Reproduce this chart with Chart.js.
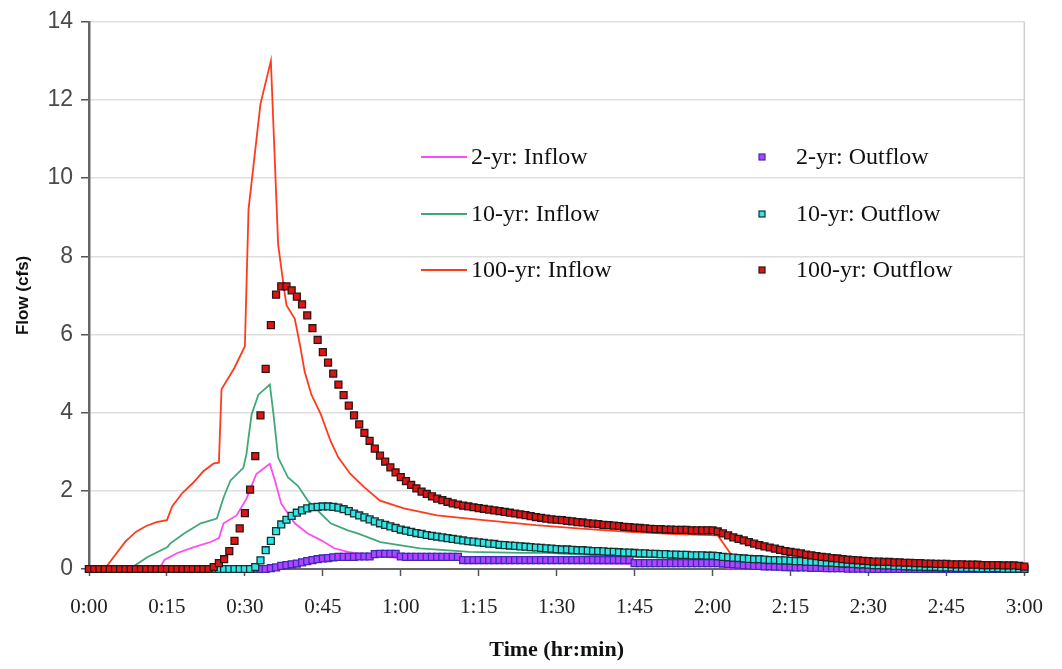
<!DOCTYPE html>
<html>
<head>
<meta charset="utf-8">
<script src="https://cdn.jsdelivr.net/npm/chart.js@4.4.0/dist/chart.umd.min.js"></script>
<style>
html,body{margin:0;padding:0;background:#ffffff;}
#wrap{width:1062px;height:669px;position:relative;}
</style>
</head>
<body>
<div id="wrap"><canvas id="c" width="1062" height="669"></canvas></div>
<script>
// ---- tick labels ----
const timeTickLabels = ['0:00','0:15','0:30','0:45','1:00','1:15','1:30','1:45','2:00','2:15','2:30','2:45','3:00'];

// ---- series names ----
const seriesNames = ['2-yr: Inflow','10-yr: Inflow','100-yr: Inflow','2-yr: Outflow','10-yr: Outflow','100-yr: Outflow'];

// ---- inflow hydrographs (time in minutes, flow in cfs) ----
const inflow2Time = [0,13.5,14.5,17,20.2,23.4,25,25.9,28.4,30.3,32.2,34.8,35.8,37,39.6,42.1,44.6,47.2,49.8,55,60,75,90,105,121,123,130,180];
const inflow2Flow = [0,0,0.23,0.41,0.56,0.69,0.79,1.17,1.37,1.8,2.43,2.69,2.26,1.67,1.17,0.91,0.74,0.53,0.44,0.33,0.28,0.21,0.16,0.13,0.11,0.03,0,0];

const inflow10Time = [0,7.8,11.2,15.1,15.6,18.3,21.5,24.6,25.9,27.2,29.7,30.3,30.7,31.3,32.6,34.8,35.5,36.4,38.3,40.2,42.1,44.6,46.5,49.8,51.7,56.1,63.7,73.2,83.5,87.9,103.7,121,123,135,140,180];
const inflow10Flow = [0,0,0.3,0.56,0.65,0.91,1.17,1.29,1.83,2.26,2.59,2.94,3.36,3.96,4.46,4.72,3.96,2.85,2.34,2.13,1.75,1.42,1.17,0.99,0.91,0.69,0.53,0.44,0.41,0.41,0.31,0.27,0.05,0.01,0,0];

const inflow100Time = [0,3,5,7,9,11,13,15,16,18,20,22,24,25,25.5,28,30,30.7,33,35,36.4,37.4,38,39.6,40.6,41.5,42.8,44.6,46.5,48,50.3,53,56,60.6,67,73,80,86,94,104,113,121,123,125,135,145,180];
const inflow100Flow = [0,0,0.35,0.7,0.95,1.1,1.2,1.25,1.6,1.95,2.2,2.5,2.7,2.72,4.6,5.15,5.7,9.2,11.9,13.0,8.3,7.3,6.75,6.4,5.73,5.05,4.46,3.96,3.27,2.85,2.43,2.09,1.75,1.55,1.37,1.29,1.2,1.12,1.04,0.95,0.89,0.86,0.48,0.08,0.03,0,0];

// ---- outflow hydrographs, one value per minute from 0:00 to 3:00 ----
const outflow2 = [
0,0,0,0,0,0,0,0,0,0,
0,0,0,0,0,0,0,0,0,0,
0,0,0,0,0,0,0,0,0,0,
0,0,0,0,0,0.02,0.04,0.08,0.1,0.12,
0.14,0.17,0.2,0.23,0.25,0.27,0.28,0.3,0.31,0.31,
0.31,0.31,0.32,0.32,0.32,0.38,0.39,0.39,0.39,0.39,
0.32,0.31,0.31,0.31,0.31,0.31,0.31,0.31,0.31,0.31,
0.31,0.31,0.23,0.23,0.23,0.23,0.23,0.23,0.23,0.23,
0.23,0.23,0.23,0.23,0.23,0.23,0.23,0.23,0.23,0.23,
0.23,0.23,0.23,0.23,0.23,0.23,0.23,0.23,0.23,0.23,
0.23,0.23,0.23,0.23,0.23,0.15,0.15,0.15,0.15,0.15,
0.15,0.15,0.15,0.15,0.15,0.15,0.15,0.15,0.15,0.15,
0.15,0.15,0.14,0.13,0.12,0.11,0.1,0.09,0.08,0.08,
0.07,0.07,0.06,0.06,0.05,0.05,0.04,0.04,0.04,0.03,
0.03,0.03,0.02,0.02,0.02,0.02,0.01,0.01,0.01,0.01,
0,0,0,0,0,0,0,0,0,0,
0,0,0,0,0,0,0,0,0,0,
0,0,0,0,0,0,0,0,0,0,
0];

const outflow10 = [
0,0,0,0,0,0,0,0,0,0,
0,0,0,0,0,0,0,0,0,0,
0,0,0,0,0,0,0,0,0,0,
0,0,0.05,0.22,0.48,0.72,0.97,1.14,1.26,1.36,
1.44,1.5,1.55,1.58,1.59,1.6,1.6,1.59,1.57,1.53,
1.48,1.42,1.37,1.32,1.27,1.22,1.17,1.13,1.09,1.05,
1.01,0.98,0.95,0.92,0.9,0.87,0.85,0.83,0.81,0.79,
0.77,0.75,0.73,0.71,0.7,0.68,0.67,0.65,0.64,0.62,
0.61,0.6,0.59,0.58,0.57,0.56,0.55,0.54,0.53,0.52,
0.51,0.5,0.5,0.49,0.48,0.48,0.47,0.46,0.46,0.45,
0.44,0.44,0.43,0.42,0.42,0.41,0.4,0.4,0.39,0.39,
0.38,0.38,0.37,0.37,0.36,0.36,0.35,0.35,0.35,0.34,
0.34,0.33,0.31,0.3,0.29,0.28,0.27,0.26,0.25,0.25,
0.24,0.23,0.23,0.22,0.22,0.21,0.2,0.2,0.19,0.18,
0.18,0.17,0.16,0.16,0.15,0.14,0.14,0.13,0.12,0.12,
0.11,0.1,0.1,0.09,0.09,0.08,0.08,0.07,0.07,0.06,
0.06,0.05,0.05,0.05,0.04,0.04,0.04,0.03,0.03,0.03,
0.03,0.02,0.02,0.02,0.02,0.02,0.01,0.01,0.01,0.01,
0.01];

const outflow100 = [
0,0,0,0,0,0,0,0,0,0,
0,0,0,0,0,0,0,0,0,0,
0,0,0,0,0.05,0.15,0.25,0.46,0.72,1.04,
1.43,2.03,2.89,3.93,5.12,6.24,7.02,7.23,7.23,7.13,
6.97,6.77,6.49,6.16,5.86,5.55,5.28,5.0,4.72,4.45,
4.18,3.93,3.7,3.48,3.28,3.08,2.9,2.75,2.6,2.47,
2.35,2.25,2.15,2.06,1.98,1.92,1.86,1.8,1.76,1.72,
1.68,1.65,1.62,1.6,1.58,1.56,1.54,1.52,1.5,1.48,
1.46,1.44,1.42,1.4,1.38,1.35,1.33,1.31,1.29,1.27,
1.26,1.25,1.23,1.22,1.2,1.19,1.17,1.16,1.15,1.13,
1.12,1.11,1.1,1.08,1.07,1.06,1.05,1.04,1.03,1.02,
1.02,1.01,1.01,1.0,1.0,1.0,0.99,0.99,0.99,0.99,
0.99,0.96,0.91,0.86,0.81,0.77,0.73,0.69,0.65,0.61,
0.58,0.55,0.52,0.49,0.46,0.44,0.42,0.4,0.37,0.35,
0.33,0.31,0.3,0.28,0.27,0.25,0.24,0.23,0.22,0.21,
0.2,0.19,0.19,0.18,0.18,0.17,0.17,0.16,0.16,0.15,
0.15,0.14,0.14,0.13,0.13,0.13,0.12,0.12,0.12,0.11,
0.11,0.11,0.1,0.1,0.1,0.1,0.09,0.09,0.09,0.08,
0.06];

// ---- helpers ----
function pairs(xs, ys) { return xs.map((x, i) => ({ x: x, y: ys[i] })); }
function perMinute(ys) { return ys.map((y, i) => ({ x: i, y: y })); }

const lineDs = (label, data, color) => ({
  label, data, borderColor: color, backgroundColor: color, borderWidth: 1.8,
  pointRadius: 0, tension: 0, showLine: true, clip: false, fill: false
});
const markDs = (label, data, fill, edge) => ({
  label, data, showLine: false, pointStyle: 'rect', pointRadius: 4.9,
  pointBackgroundColor: fill, pointBorderColor: edge, pointBorderWidth: 1.3,
  backgroundColor: fill, borderColor: edge, clip: false
});

// Datasets: index 0 is drawn on top
const datasets = [
  markDs(seriesNames[5], perMinute(outflow100), '#e01414', '#2a1616'),
  markDs(seriesNames[4], perMinute(outflow10), '#2ee6e6', '#173030'),
  markDs(seriesNames[3], perMinute(outflow2), '#b144ff', '#3c2ab8'),
  lineDs(seriesNames[2], pairs(inflow100Time, inflow100Flow), '#ff3b1e'),
  lineDs(seriesNames[1], pairs(inflow10Time, inflow10Flow), '#40a878'),
  lineDs(seriesNames[0], pairs(inflow2Time, inflow2Flow), '#ff4cf2')
];

// legend drawn inside the plot in two columns
const legendPlugin = {
  id: 'insideLegend',
  afterDatasetsDraw(chart) {
    const ctx = chart.ctx;
    const rows = [157, 214, 270];
    ctx.save();
    ctx.font = '24px "Liberation Serif", "Times New Roman", serif';
    ctx.fillStyle = '#111';
    ctx.textBaseline = 'middle';
    [5, 4, 3].forEach((di, r) => {
      const ds = chart.data.datasets[di];
      ctx.strokeStyle = ds.borderColor;
      ctx.lineWidth = 2;
      ctx.beginPath();
      ctx.moveTo(421, rows[r]);
      ctx.lineTo(467, rows[r]);
      ctx.stroke();
      ctx.fillStyle = '#111';
      ctx.fillText(ds.label, 471, rows[r] + 1);
    });
    [2, 1, 0].forEach((di, r) => {
      const ds = chart.data.datasets[di];
      ctx.fillStyle = ds.pointBackgroundColor;
      ctx.fillRect(759, rows[r] - 3, 6, 6);
      ctx.strokeStyle = ds.pointBorderColor;
      ctx.lineWidth = 1.2;
      ctx.strokeRect(759, rows[r] - 3, 6, 6);
      ctx.fillStyle = '#111';
      ctx.fillText(ds.label, 796, rows[r] + 1);
    });
    ctx.restore();
  },
  beforeDatasetsDraw(chart) {
    const a = chart.chartArea, ctx = chart.ctx;
    ctx.save();
    ctx.strokeStyle = '#cfcfcf';
    ctx.lineWidth = 1.5;
    ctx.beginPath();
    ctx.moveTo(a.right, a.top);
    ctx.lineTo(a.right, a.bottom);
    ctx.stroke();
    ctx.restore();
  }
};

new Chart(document.getElementById('c'), {
  type: 'line',
  data: { datasets },
  plugins: [legendPlugin],
  options: {
    responsive: false,
    animation: false,
    devicePixelRatio: 1,
    layout: { padding: { left: 0, right: 29, top: 17, bottom: 0 } },
    plugins: { legend: { display: false }, tooltip: { enabled: false } },
    scales: {
      x: {
        type: 'linear', min: 0, max: 180,
        afterBuildTicks: (s) => { s.ticks = timeTickLabels.map((_, i) => ({ value: i * 15 })); },
        ticks: {
          autoSkip: false, maxRotation: 0, padding: 19, color: '#222',
          font: { family: 'Liberation Serif', size: 21 },
          callback: (v) => timeTickLabels[Math.round(v / 15)]
        },
        grid: { drawOnChartArea: false, drawTicks: true, tickLength: 7, tickColor: '#555', tickWidth: 1.5 },
        border: { color: '#666', width: 2 },
        title: {
          display: true, text: 'Time (hr:min)', color: '#111',
          font: { family: 'Liberation Serif', size: 22, weight: 'bold' },
          padding: { top: 4, bottom: 5 }
        },
        afterFit: (s) => { s.height = 100; }
      },
      y: {
        min: 0, max: 14,
        ticks: { stepSize: 2, padding: 8, color: '#4a4a4a', font: { family: 'Liberation Sans', size: 23 } },
        grid: { color: '#dedede', lineWidth: 1.5, tickColor: '#555', tickLength: 8, tickWidth: 1.5 },
        border: { color: '#666', width: 2.5 },
        title: {
          display: true, text: 'Flow (cfs)', color: '#111',
          font: { family: 'Liberation Sans', size: 17, weight: 'bold' },
          padding: { top: 13, bottom: 4 }
        },
        afterFit: (s) => { s.width = 89; }
      }
    }
  }
});
</script>
</body>
</html>
